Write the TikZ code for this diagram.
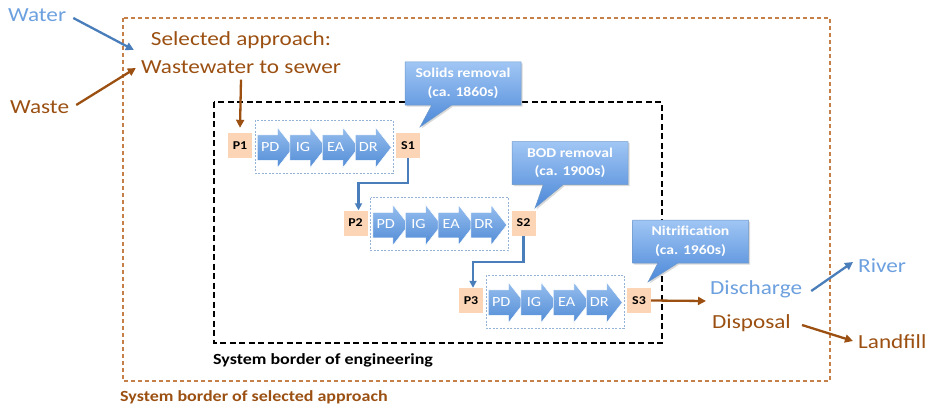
\documentclass[tikz,border=0pt]{standalone}
\usepackage{fontspec}
\setmainfont{Carlito}[FakeStretch=1.16]
\usetikzlibrary{shapes.arrows,shapes.callouts,shadows,arrows.meta}

\definecolor{brownc}{RGB}{155,80,18}
\definecolor{borderc}{RGB}{196,128,72}
\definecolor{lightblue}{RGB}{108,160,222}
\definecolor{arrowblue}{RGB}{74,126,187}
\definecolor{peach}{RGB}{251,213,181}
\definecolor{chevtop}{RGB}{150,190,238}
\definecolor{chevbot}{RGB}{82,140,214}
\definecolor{dotblue}{RGB}{149,179,215}
\definecolor{calltop}{RGB}{160,198,244}
\definecolor{callbot}{RGB}{76,136,216}

\tikzset{
  bigtext/.style={inner sep=0pt, font=\fontsize{20}{27}\selectfont},
  stagebox/.style={fill=peach, minimum width=24pt, minimum height=25pt,
    inner sep=0pt, font=\bfseries\fontsize{12}{14}\selectfont},
  chevron/.style={single arrow, single arrow head extend=7.5pt,
    single arrow tip angle=104, minimum height=36pt, text height=9pt,
    text depth=2pt, inner xsep=0pt, inner ysep=7pt, top color=chevtop,
    bottom color=chevbot, draw=white, line width=0.5pt, text=white,
    font=\fontsize{14}{16}\selectfont},
  callbox/.style={rectangle callout, top color=calltop, bottom color=callbot,
    draw=arrowblue!80, line width=0.5pt, text=white, align=center,
    minimum width=116pt, minimum height=43pt, inner sep=2pt,
    callout pointer width=20pt,
    drop shadow={shadow xshift=1.5pt, shadow yshift=-1.5pt, opacity=0.3},
    font=\bfseries\fontsize{13.5}{18.5}\selectfont},
  brownarrow/.style={-{Triangle[length=8pt,width=8pt]}, brownc, line width=2.3pt},
  bluearrow/.style={-{Triangle[length=8pt,width=8pt]}, arrowblue, line width=2.3pt},
  flowline/.style={-{Triangle[length=7pt,width=7pt]}, arrowblue, line width=2.3pt},
  dotbox/.style={dotblue, dash pattern=on 2pt off 1.5pt, line width=0.9pt},
  selborder/.style={borderc, line width=1.4pt, dash pattern=on 4pt off 3pt},
  engborder/.style={black, line width=1.8pt, dash pattern=on 6pt off 3.5pt},
  borderlabel/.style={anchor=west, inner sep=0pt, font=\bfseries\fontsize{15.5}{18}\selectfont}
}

\begin{document}
\begin{tikzpicture}[x=1pt, y=-1pt]

  \useasboundingbox (0,0) rectangle (931,412);

  % the two system borders
  \draw[selborder] (123,18) rectangle (830,381);
  \draw[engborder] (214,102) rectangle (662,343);
  \node[borderlabel, text=brownc] (sellabel) at (120,397) {System border of selected approach};
  \node[borderlabel] (englabel) at (213,360) {System border of engineering};

  % inputs
  \node[bigtext, text=lightblue, anchor=west] (water) at (8,15) {Water};
  \node[bigtext, text=brownc, anchor=west] (waste) at (10,107) {Waste};
  \node[bigtext, text=brownc] (approach1) at (241,40) {Selected approach:};
  \node[bigtext, text=brownc] (approach2) at (241,67) {Wastewater to sewer};

  \draw[bluearrow] ([xshift=7pt,yshift=-3pt]water.east) -- ([xshift=-7pt,yshift=17pt]approach2.west);
  \draw[brownarrow] ([xshift=7pt,yshift=2pt]waste.east) -- ([xshift=-5pt,yshift=-1pt]approach2.west);

  % treatment rows
  \foreach \r in {1,2,3} {
    \pgfmathsetmacro\px{240+115.5*(\r-1)}
    \pgfmathsetmacro\py{145.5+77.5*(\r-1)}
    \node[stagebox] (P\r) at (\px,\py) {P\r};
    \node[stagebox] (S\r) at (\px+168,\py) {S\r};
    \draw[dotbox] (\px+15,\py-25.5) rectangle (\px+153,\py+27.5);
    \foreach \n [count=\i from 0] in {PD,IG,EA,DR}
      \node[chevron, anchor=tail] (\n\r) at (\px+17+32.7*\i,\py+2) {\n};
  }

  \draw[brownarrow] ([yshift=-6pt]approach2.south) -- ([yshift=5pt]P1.north);
  \draw[flowline] (S1.south) -- ++(0,25) -| ([xshift=3pt]P2.north);
  \draw[flowline] (S2.south) -- ++(0,26) -| ([xshift=2pt]P3.north);

  % callouts
  \node[callbox, callout absolute pointer={(420,127)}] (solids) at (463,83.5)
    {Solids removal\\(ca. 1860s)};
  \node[callbox, callout absolute pointer={(535,208)}] (bod) at (570,163)
    {BOD removal\\(ca. 1900s)};
  \node[callbox, callout absolute pointer={(648,282)}] (nitri) at (690.5,241.5)
    {Nitrification\\(ca. 1960s)};

  % outputs
  \coordinate (outlet) at (706,301);
  \draw[brownarrow] (S3.east) -- (outlet);
  \node[bigtext, text=lightblue, anchor=west] (discharge) at (710,289) {Discharge};
  \node[bigtext, text=brownc, anchor=west] (disposal) at (712,323) {Disposal};
  \node[bigtext, text=lightblue, anchor=west] (river) at (858,266) {River};
  \node[bigtext, text=brownc, anchor=west] (landfill) at (858,342) {Landfill};

  \draw[bluearrow] ([xshift=9pt,yshift=-2pt]discharge.east) -- ([xshift=-5pt,yshift=4pt]river.west);
  \draw[brownarrow] ([xshift=11pt,yshift=-2pt]disposal.east) -- ([xshift=-5pt,yshift=1pt]landfill.west);

\end{tikzpicture}
\end{document}
